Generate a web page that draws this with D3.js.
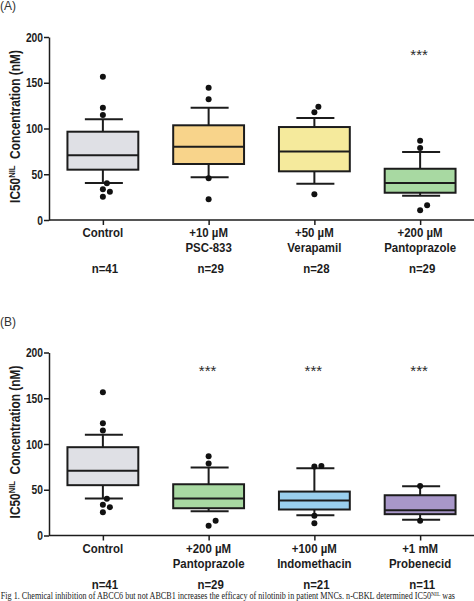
<!DOCTYPE html>
<html>
<head>
<meta charset="utf-8">
<script src="https://cdn.jsdelivr.net/npm/d3@7/dist/d3.min.js"></script>
<style>
  html, body { margin: 0; padding: 0; background: #fff; }
  svg { display: block; }
</style>
</head>
<body>
<svg id="chart" width="474" height="601"></svg>
<script>
// ---------------- DATA ----------------
// Panel A
const categoriesA = [["Control"], ["+10 µM", "PSC-833"], ["+50 µM", "Verapamil"], ["+200 µM", "Pantoprazole"]];
const countsA = ["n=41", "n=29", "n=28", "n=29"];
const q1A = [55, 61.2, 53.2, 29.8];
const medianA = [70.7, 80.1, 75, 40.4];
const q3A = [96.5, 103.5, 101.6, 56];
const whiskerLowA = [40.4, 46.7, 39.7, 26.6];
const whiskerHighA = [110, 122.7, 111.5, 74.3];
const outliersA = [
  [156.6, 122.7, 114.8, 40.2, 33.5, 31, 25.5],
  [144.6, 131.9, 45.6, 22.6],
  [123.8, 117.7, 28.1],
  [86.7, 78.7, 16, 10.6]
];
const signifA = ["", "", "", "***"];
const fillsA = ["#dfe0e5", "#f8d48b", "#f5ea9c", "#a8d9a2"];

// Panel B
const categoriesB = [["Control"], ["+200 µM", "Pantoprazole"], ["+100 µM", "Indomethacin"], ["+1 mM", "Probenecid"]];
const countsB = ["n=41", "n=29", "n=21", "n=11"];
const q1B = [55, 29.8, 28.4, 23.3];
const medianB = [70.7, 40.4, 38.2, 27.6];
const q3B = [96.5, 56, 48, 44];
const whiskerLowB = [40.4, 26.6, 22.2, 17.1];
const whiskerHighB = [110, 74.3, 73.5, 53.8];
const outliersB = [
  [156.6, 122.7, 114.8, 40.2, 33.5, 31, 25.5],
  [86.7, 78.7, 16, 10.6],
  [75.3, 76, 21.5, 13.5],
  [54.2, 16]
];
const signifB = ["", "***", "***", "***"];
const fillsB = ["#dfe0e5", "#a8d9a2", "#9acfee", "#a897c9"];

const yTicks = [0, 50, 100, 150, 200];
const yTitleMain = "IC50";
const yTitleSup = "NIL";
const yTitleRest = " Concentration (nM)";
const captionText = "Fig 1.  Chemical inhibition of ABCC6 but not ABCB1 increases the efficacy of nilotinib in patient MNCs. n-CBKL determined IC50";
const captionSup = "NIL";
const captionEnd = " was";

// ---------------- DRAW ----------------
const svg = d3.select("#chart");
const FONT = "'Liberation Sans', Arial, sans-serif";
const INK = "#1c1c1c";

function condense(sel, f) {
  sel.each(function () {
    const w = this.getComputedTextLength();
    d3.select(this).attr("textLength", w * f).attr("lengthAdjust", "spacingAndGlyphs");
  });
}

function drawPanel(offsetY, label, cats, counts, q1, med, q3, wLo, wHi, outs, sig, fills) {
  const g = svg.append("g").attr("transform", `translate(0,${offsetY})`);
  const left = 49, top = 37, bottom = 220;

  const y = d3.scaleLinear().domain([0, 200]).range([bottom, top]);
  const x = d3.scalePoint().domain(d3.range(cats.length)).range([50, 473]).padding(0.5);
  const step = x.step();
  const boxW = step * 0.67;
  const capW = boxW * 0.48;

  // panel label
  g.append("text").attr("x", 0).attr("y", 10)
    .attr("font-family", FONT).attr("font-size", 12)
    .attr("fill", "#333").text(label);

  // y axis
  const yAxis = g.append("g").attr("transform", `translate(${left},0)`)
    .call(d3.axisLeft(y).tickValues(yTicks).tickSize(5).tickPadding(1).tickSizeOuter(0));
  yAxis.select(".domain").attr("stroke", INK).attr("stroke-width", 1.5);
  yAxis.selectAll(".tick line").attr("stroke", INK).attr("stroke-width", 1.5);
  yAxis.selectAll(".tick text").attr("font-family", FONT).attr("font-weight", "bold")
    .attr("font-size", 12.5).attr("fill", INK).call(condense, 0.82);

  // x axis
  const xAxis = g.append("g").attr("transform", `translate(0,${bottom})`)
    .call(d3.axisBottom(x).tickSize(5).tickSizeOuter(0).tickFormat(""));
  xAxis.select(".domain").attr("d", `M${left},0H474`).attr("stroke", INK).attr("stroke-width", 1.5);
  xAxis.selectAll(".tick line").attr("stroke", INK).attr("stroke-width", 1.5);

  // y title
  const yt = g.append("text")
    .attr("text-anchor", "middle")
    .attr("font-family", FONT).attr("font-weight", "bold").attr("font-size", 14).attr("fill", INK);
  yt.append("tspan").text(yTitleMain);
  yt.append("tspan").attr("font-size", 9).attr("dy", -5).text(yTitleSup);
  yt.append("tspan").attr("dy", 5).text("\u00a0" + yTitleRest);
  const tw = yt.node().getComputedTextLength();
  yt.attr("transform", `translate(20,${(top + bottom) / 2 - 2}) rotate(-90) scale(${153 / tw},1)`);

  // boxes
  cats.forEach((c, i) => {
    const cx = x(i);
    const bg = g.append("g");
    bg.append("line").attr("x1", cx).attr("x2", cx).attr("y1", y(q3[i])).attr("y2", y(wHi[i]))
      .attr("stroke", INK).attr("stroke-width", 2);
    bg.append("line").attr("x1", cx).attr("x2", cx).attr("y1", y(q1[i])).attr("y2", y(wLo[i]))
      .attr("stroke", INK).attr("stroke-width", 2);
    [wHi[i], wLo[i]].forEach(v => {
      bg.append("line").attr("x1", cx - capW / 2 - 1).attr("x2", cx + capW / 2 + 3)
        .attr("y1", y(v)).attr("y2", y(v)).attr("stroke", INK).attr("stroke-width", 2);
    });
    bg.append("rect").attr("x", cx - boxW / 2).attr("y", y(q3[i]))
      .attr("width", boxW).attr("height", y(q1[i]) - y(q3[i]))
      .attr("fill", fills[i]).attr("stroke", INK).attr("stroke-width", 2);
    bg.append("line").attr("x1", cx - boxW / 2).attr("x2", cx + boxW / 2)
      .attr("y1", y(med[i])).attr("y2", y(med[i])).attr("stroke", INK).attr("stroke-width", 2);

    // outliers with simple dodge
    const r = 3;
    const placed = [];
    outs[i].slice().sort((a, b) => a - b).forEach(v => {
      const py = y(v);
      const cands = [0, 4, -4, 7, -7, 10, -10];
      let dx = 0;
      for (const cd of cands) {
        if (placed.every(p => Math.hypot(p.x - cd, p.y - py) >= 2 * r + 0.5)) { dx = cd; break; }
      }
      placed.push({ x: dx, y: py });
      bg.append("circle").attr("cx", cx + dx).attr("cy", py).attr("r", r).attr("fill", "#111");
    });

    c.forEach((line, k) => {
      g.append("text").attr("x", cx).attr("y", 237 + k * 15)
        .attr("text-anchor", "middle").attr("font-family", FONT).attr("font-weight", "bold")
        .attr("font-size", 13).attr("fill", INK).text(line).call(condense, 0.88);
    });
    g.append("text").attr("x", cx + 2).attr("y", 273)
      .attr("text-anchor", "middle").attr("font-family", FONT).attr("font-weight", "bold")
      .attr("font-size", 13).attr("fill", INK).text(counts[i]).call(condense, 0.88);
    if (sig[i]) {
      g.append("text").attr("x", cx - 1).attr("y", 60)
        .attr("text-anchor", "middle").attr("font-family", FONT)
        .attr("font-size", 15).attr("fill", "#2a2a2a").text(sig[i]);
    }
  });
}

drawPanel(0, "(A)", categoriesA, countsA, q1A, medianA, q3A, whiskerLowA, whiskerHighA, outliersA, signifA, fillsA);
drawPanel(315.5, "(B)", categoriesB, countsB, q1B, medianB, q3B, whiskerLowB, whiskerHighB, outliersB, signifB, fillsB);

// caption
const cap = svg.append("text").attr("x", 1).attr("y", 599)
  .attr("font-family", "'Liberation Serif', 'Times New Roman', serif").attr("font-size", 9.5).attr("fill", "#222");
cap.append("tspan").text(captionText);
cap.append("tspan").attr("font-size", 6.5).attr("dy", -3).text(captionSup);
cap.append("tspan").attr("dy", 3).text(captionEnd);
const w = cap.node().getComputedTextLength();
cap.attr("transform", `translate(0,0) scale(${455 / w},1)`);
</script>
</body>
</html>
